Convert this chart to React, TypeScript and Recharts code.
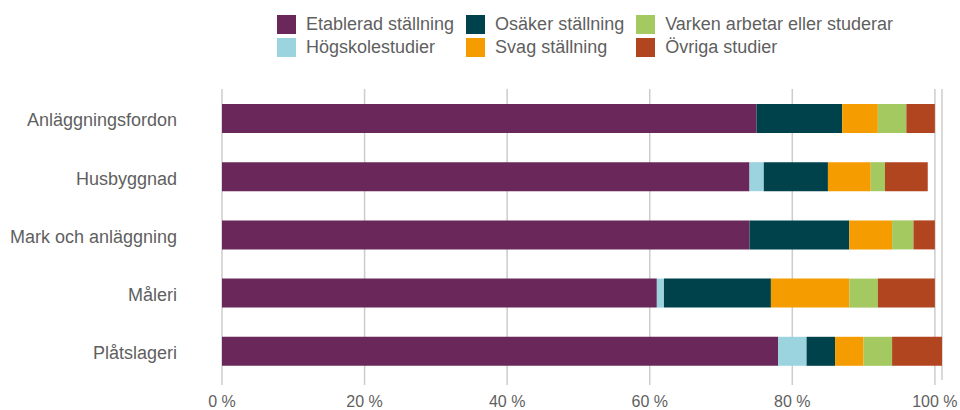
import React from 'react';
import { BarChart, Bar, XAxis, YAxis, CartesianGrid, Legend } from 'recharts';

const categories = ['Anläggningsfordon', 'Husbyggnad', 'Mark och anläggning', 'Måleri', 'Plåtslageri'];
const etablerad = [75, 74, 74, 61, 78];
const hogskole = [0, 2, 0, 1, 4];
const osaker = [12, 9, 14, 15, 4];
const svag = [5, 6, 6, 11, 4];
const varken = [4, 2, 3, 4, 4];
const ovriga = [4, 6, 3, 8, 7];
const xTicks = [0, 20, 40, 60, 80, 100];

const seriesNames = [
  'Etablerad ställning',
  'Högskolestudier',
  'Osäker ställning',
  'Svag ställning',
  'Varken arbetar eller studerar',
  'Övriga studier',
];
const seriesKeys = ['etablerad', 'hogskole', 'osaker', 'svag', 'varken', 'ovriga'];
const seriesColors = ['#692859', '#9bd3df', '#00424b', '#f49c00', '#a3c960', '#b0451f'];

const data = categories.map((c, i) => ({
  name: c,
  etablerad: etablerad[i],
  hogskole: hogskole[i],
  osaker: osaker[i],
  svag: svag[i],
  varken: varken[i],
  ovriga: ovriga[i],
}));

const FONT = '"Liberation Sans", Arial, sans-serif';
const TEXT = '#5f5f5f';

const renderLegend = (props: any) => {
  const payload = (props.payload || []) as any[];
  const cols: any[][] = [];
  for (let i = 0; i < payload.length; i += 2) cols.push(payload.slice(i, i + 2));
  return (
    <div style={{ display: 'flex', gap: 12, fontFamily: FONT, fontSize: 18, color: TEXT }}>
      {cols.map((col, ci) => (
        <div key={ci} style={{ display: 'flex', flexDirection: 'column' }}>
          {col.map((it: any) => (
            <div key={it.value} style={{ display: 'flex', alignItems: 'center', height: 23, whiteSpace: 'nowrap' }}>
              <span style={{ display: 'inline-block', width: 19, height: 19, background: it.color, marginRight: 10 }} />
              <span>{it.value}</span>
            </div>
          ))}
        </div>
      ))}
    </div>
  );
};

const XTick = (props: any) => {
  const { x, y, payload } = props;
  return (
    <text x={x} y={y} dy={12} textAnchor="middle" fill={TEXT} fontSize={16} fontFamily={FONT}>
      {`${payload.value} %`}
    </text>
  );
};

export default function App() {
  return (
    <div style={{ width: 952, height: 402, paddingLeft: 8, paddingTop: 8, overflow: 'hidden' }}>
      <style>{'html,body{margin:0;padding:0;}'}</style>
      <BarChart
        width={952}
        height={402}
        data={data}
        layout="vertical"
        margin={{ top: 81, right: 18, bottom: 0, left: 0 }}
        barSize={29}
      >
        <CartesianGrid horizontal={false} vertical={true} stroke="#cccccc" strokeWidth={1.5} />
        <XAxis
          type="number"
          domain={[0, 101]}
          ticks={xTicks}
          axisLine={false}
          tickLine={{ stroke: '#cccccc', strokeWidth: 1.5 }}
          tickSize={5}
          tickMargin={10}
          height={30}
          tick={<XTick />}
          interval={0}
        />
        <YAxis
          type="category"
          dataKey="name"
          width={214}
          axisLine={false}
          tickLine={false}
          tickSize={0}
          tickMargin={45}
          tick={{ fill: TEXT, fontSize: 18, fontFamily: FONT, dy: 2 }}
          interval={0}
        />
        <Legend
          layout="horizontal"
          verticalAlign="middle"
          align="center"
          content={renderLegend}
          wrapperStyle={{ top: 5, left: 269, width: 'auto', height: 'auto' }}
        />
        {seriesKeys.map((k, i) => (
          <Bar
            key={k}
            dataKey={k}
            name={seriesNames[i]}
            stackId="a"
            fill={seriesColors[i]}
            isAnimationActive={false}
          />
        ))}
      </BarChart>
    </div>
  );
}
